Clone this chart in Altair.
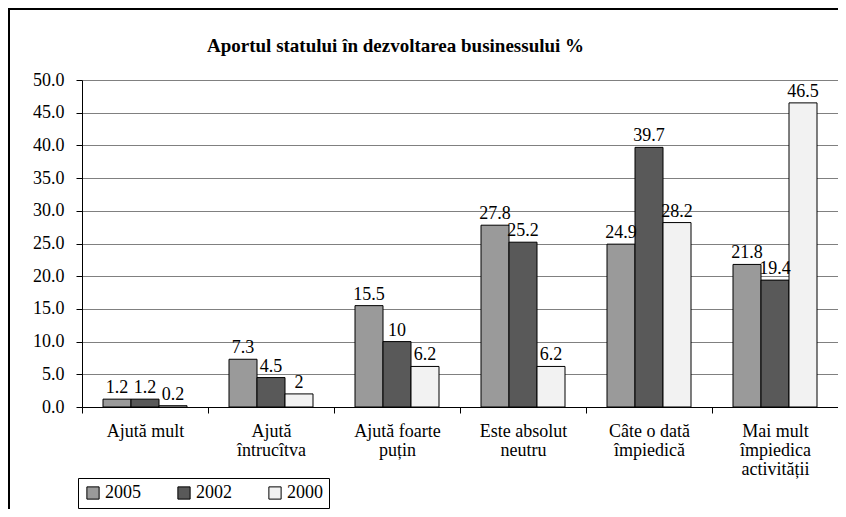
import altair as alt
import pandas as pd

categories = ["Ajută mult", "Ajută|întrucîtva", "Ajută foarte|puțin",
              "Este absolut|neutru", "Câte o dată|împiedică",
              "Mai mult|împiedica|activității"]
series = ["2005", "2002", "2000"]
v2005 = [1.2, 7.3, 15.5, 27.8, 24.9, 21.8]
v2002 = [1.2, 4.5, 10, 25.2, 39.7, 19.4]
v2000 = [0.2, 2, 6.2, 6.2, 28.2, 46.5]
colors = ["#9a9a9a", "#595959", "#f2f2f2"]
y_ticks = [0, 5, 10, 15, 20, 25, 30, 35, 40, 45, 50]

rows = []
for s, vals in zip(series, [v2005, v2002, v2000]):
    for c, v in zip(categories, vals):
        rows.append({"cat": c, "series": s, "value": v})
df = pd.DataFrame(rows)

FONT = "Liberation Serif"
FS = 18

x_enc = alt.X("cat:N", sort=categories, title=None,
              scale=alt.Scale(paddingInner=0, paddingOuter=0),
              axis=alt.Axis(labelExpr="split(datum.label, '|')", labelAngle=0,
                            tickBand="extent", tickSize=6, tickColor="black",
                            domainColor="black", labelFontSize=FS, labelFont=FONT,
                            labelColor="black", labelLineHeight=19, labelPadding=9,
                            grid=False, labelLimit=200))
xoff = alt.XOffset("series:N", sort=series,
                   scale=alt.Scale(paddingOuter=0.75, paddingInner=0))
y_enc = alt.Y("value:Q", title=None,
              scale=alt.Scale(domain=[0, 50], nice=False),
              axis=alt.Axis(values=y_ticks, format=".1f", tickSize=6, tickColor="black",
                            domainColor="black", labelFontSize=FS, labelFont=FONT,
                            labelColor="black", labelPadding=12, gridColor="#808080",
                            gridOpacity=1, grid=True))

base = alt.Chart(df)
bars = base.mark_bar(stroke="black", strokeWidth=1).encode(
    x=x_enc, xOffset=xoff, y=y_enc,
    color=alt.Color("series:N", sort=series,
                    scale=alt.Scale(domain=series, range=colors),
                    legend=alt.Legend(title=None, orient="none", legendX=-4, legendY=398,
                                      direction="horizontal", strokeColor="black",
                                      padding=6, symbolType="square", symbolSize=150,
                                      symbolStrokeColor="black", symbolStrokeWidth=1,
                                      labelFontSize=FS, labelFont=FONT, labelColor="black",
                                      labelOffset=3, columnPadding=34)),
)
labels = base.mark_text(font=FONT, fontSize=FS, baseline="alphabetic", dy=-6,
                        color="black").encode(
    x=x_enc, xOffset=xoff, y=y_enc, text=alt.Text("value:Q"))

frame = alt.Chart(pd.DataFrame({"a": [0]})).mark_rect(
    fill=None, stroke="black", strokeWidth=2, clip=False).encode(
    x=alt.value(-73), x2=alt.value(900), y=alt.value(-71), y2=alt.value(700))

chart = alt.layer(bars, labels, frame).properties(
    width=756, height=327,
    title=alt.TitleParams("Aportul statului în dezvoltarea businessului %",
                          font=FONT, fontSize=19, fontWeight="bold", color="black",
                          anchor="start", dx=199, offset=0, dy=48),
    autosize=alt.AutoSizeParams(type="none"),
    padding={"left": 74, "top": 72, "right": 0, "bottom": 102},
).configure_view(stroke=None).configure(background="white")

chart.save("out.html", embed_options={"renderer": "svg", "actions": False})
